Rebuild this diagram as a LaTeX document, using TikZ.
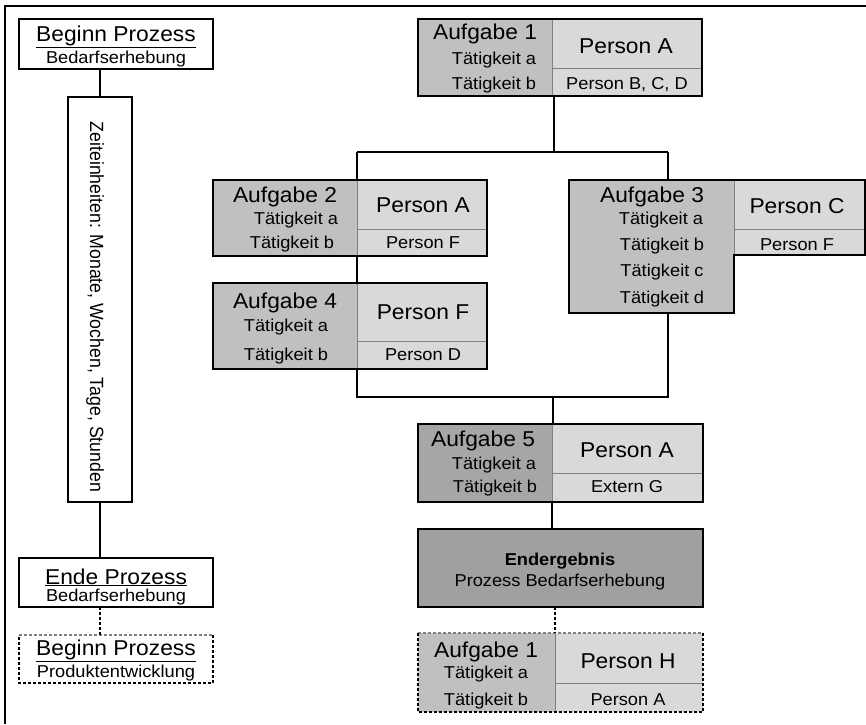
\documentclass[tikz,border=0pt]{standalone}
\usepackage{fontspec}
\setmainfont{Liberation Sans}
\usepackage{graphicx}
\definecolor{dk}{RGB}{192,192,192}
\definecolor{lt}{RGB}{217,217,217}
\definecolor{dkf}{RGB}{166,166,166}
\definecolor{endc}{RGB}{160,160,160}
\definecolor{sepc}{RGB}{128,128,128}
\newcommand\Tbig[1]{\scalebox{1.06}[1]{\fontsize{21.5pt}{21.5pt}\selectfont #1}}
\newcommand\Tmed[1]{\scalebox{1.06}[1]{\fontsize{17.2pt}{17.2pt}\selectfont #1}}
\newcommand\Trot[1]{\scalebox{1}[1.08]{\fontsize{17.7pt}{17.7pt}\selectfont #1}}
\begin{document}
\begin{tikzpicture}[x=1pt,y=-1pt,
  part/.style={inner sep=0pt, outer sep=0pt, anchor=north west},
  bord/.style={line width=1.8pt, black},
  dbord/.style={line width=1.6pt, black, dash pattern=on 3pt off 2pt},
  dbordg/.style={line width=1.2pt, sepc, dash pattern=on 3pt off 2pt},
  conn/.style={line width=1.8pt, black},
  dconn/.style={line width=1.5pt, black, dash pattern=on 3pt off 2pt},
  sepl/.style={line width=1pt, sepc},
  txt/.style={inner sep=0pt, anchor=base},
  lbox/.style={part, draw, line width=1.5pt, fill=white},
]
\useasboundingbox (0,0) rectangle (866,724);
% outer frame
\draw[line width=1.3pt] (866,6) -- (5,6) -- (5,724);

% ---------- left column ----------
\node[lbox, minimum width=194, minimum height=50] (b1) at (19,19) {};
\node[txt] (b1t) at (116,41) {\Tbig{\underline{Beginn Prozess}}};
\node[txt] (b1s) at (116,63) {\Tmed{Bedarfserhebung}};

\node[lbox, minimum width=64, minimum height=405] (tb) at (68,97) {};
\node[inner sep=0pt, rotate=-90] (tt) at (95,307) {\Trot{Zeiteinheiten: Monate, Wochen, Tage, Stunden}};

\node[lbox, minimum width=194, minimum height=49] (b2) at (19,558) {};
\node[txt] (b2t) at (116,584) {\Tbig{\underline{Ende Prozess}}};
\node[txt] (b2s) at (116,601) {\Tmed{Bedarfserhebung}};

\node[part, minimum width=194, minimum height=48] (b3) at (19,635) {};
\draw[dbordg] (b3.north west) -- (b3.north east);
\draw[dbord] (b3.north east) -- (b3.south east) -- (b3.south west) -- (b3.north west);
\node[txt] (b3t) at (116,655) {\Tbig{\underline{Beginn Prozess}}};
\node[txt] (b3s) at (116,677) {\Tmed{Produktentwicklung}};

\draw[conn] (tb.north |- b1.south) -- (tb.north);
\draw[conn] (tb.south) -- (tb.south |- b2.north);
\draw[dconn] (tb.south |- b2.south) -- (tb.south |- b3.north);

% ---------- Aufgabe 1 ----------
\node[part, fill=dk, minimum width=134, minimum height=77] (a1L) at (418,19) {};
\node[part, fill=lt, minimum width=150, minimum height=77] (a1R) at (552,19) {};
\draw[sepl] (a1R.west |- 0,68) -- (a1R.east |- 0,68);
\draw[sepl] (a1L.north east) -- (a1L.south east);
\draw[bord] (a1L.north west) rectangle (a1R.south east);
\node[txt] (a1t) at (485,39) {\Tbig{Aufgabe 1}};
\node[txt] (a1a) at (494,64) {\Tmed{Tätigkeit a}};
\node[txt] (a1b) at (494,89) {\Tmed{Tätigkeit b}};
\node[txt] (a1p) at (626,53) {\Tbig{Person A}};
\node[txt] (a1q) at (627,89) {\Tmed{Person B, C, D}};

% ---------- Aufgabe 2 ----------
\node[part, fill=dk, minimum width=144, minimum height=76] (a2L) at (213,180) {};
\node[part, fill=lt, minimum width=130, minimum height=76] (a2R) at (357,180) {};
\draw[sepl] (a2R.west |- 0,229) -- (a2R.east |- 0,229);
\draw[sepl] (a2L.north east) -- (a2L.south east);
\draw[bord] (a2L.north west) rectangle (a2R.south east);
\node[txt] (a2t) at (285,202) {\Tbig{Aufgabe 2}};
\node[txt] (a2a) at (296,224) {\Tmed{Tätigkeit a}};
\node[txt] (a2b) at (292,248) {\Tmed{Tätigkeit b}};
\node[txt] (a2p) at (423,212) {\Tbig{Person A}};
\node[txt] (a2q) at (423,248) {\Tmed{Person F}};

% ---------- Aufgabe 4 ----------
\node[part, fill=dk, minimum width=144, minimum height=86] (a4L) at (213,283) {};
\node[part, fill=lt, minimum width=130, minimum height=86] (a4R) at (357,283) {};
\draw[sepl] (a4R.west |- 0,341) -- (a4R.east |- 0,341);
\draw[sepl] (a4L.north east) -- (a4L.south east);
\draw[bord] (a4L.north west) rectangle (a4R.south east);
\node[txt] (a4t) at (285,308) {\Tbig{Aufgabe 4}};
\node[txt] (a4a) at (286,331) {\Tmed{Tätigkeit a}};
\node[txt] (a4b) at (286,360) {\Tmed{Tätigkeit b}};
\node[txt] (a4p) at (423,319) {\Tbig{Person F}};
\node[txt] (a4q) at (423,360) {\Tmed{Person D}};

% ---------- Aufgabe 3 ----------
\node[part, fill=dk, minimum width=165, minimum height=133] (a3L) at (569,180) {};
\node[part, fill=lt, minimum width=131, minimum height=75] (a3R) at (734,180) {};
\draw[sepl] (a3R.west |- 0,229) -- (a3R.east |- 0,229);
\draw[sepl] (a3R.north west) -- (a3R.south west);
\draw[bord] (a3L.north west) -- (a3R.north east) -- (a3R.south east) -- (a3R.south west)
  -- (a3L.south east) -- (a3L.south west) -- cycle;
\node[txt] (a3t) at (652,202) {\Tbig{Aufgabe 3}};
\node[txt] (a3a) at (661,224) {\Tmed{Tätigkeit a}};
\node[txt] (a3b) at (662,250) {\Tmed{Tätigkeit b}};
\node[txt] (a3c) at (662,276) {\Tmed{Tätigkeit c}};
\node[txt] (a3d) at (662,303) {\Tmed{Tätigkeit d}};
\node[txt] (a3p) at (797,213) {\Tbig{Person C}};
\node[txt] (a3q) at (797,250) {\Tmed{Person F}};

% ---------- Aufgabe 5 ----------
\node[part, fill=dkf, minimum width=134, minimum height=78] (a5L) at (418,424) {};
\node[part, fill=lt, minimum width=151, minimum height=78] (a5R) at (552,424) {};
\draw[sepl] (a5R.west |- 0,473) -- (a5R.east |- 0,473);
\draw[sepl] (a5L.north east) -- (a5L.south east);
\draw[bord] (a5L.north west) rectangle (a5R.south east);
\node[txt] (a5t) at (483,446) {\Tbig{Aufgabe 5}};
\node[txt] (a5a) at (494,469) {\Tmed{Tätigkeit a}};
\node[txt] (a5b) at (495,492) {\Tmed{Tätigkeit b}};
\node[txt] (a5p) at (627,457) {\Tbig{Person A}};
\node[txt] (a5q) at (627,492) {\Tmed{Extern G}};

% ---------- Endergebnis ----------
\node[part, fill=endc, draw, line width=1.8pt, minimum width=285, minimum height=78] (en) at (418,529) {};
\node[txt] (ent) at (560,565) {\Tmed{\bfseries Endergebnis}};
\node[txt] (ens) at (560,586) {\Tmed{Prozess Bedarfserhebung}};

% ---------- Aufgabe 1 (next process) ----------
\node[part, fill=dk, minimum width=137, minimum height=79] (b1L) at (418,633) {};
\node[part, fill=lt, minimum width=148, minimum height=79] (b1R) at (555,633) {};
\draw[sepl] (b1R.west |- 0,683) -- (b1R.east |- 0,683);
\draw[sepl] (b1L.north east) -- (b1L.south east);
\draw[dbordg] (b1L.north west) -- (b1R.north east);
\draw[dbord] (b1R.north east) -- (b1R.south east) -- (b1L.south west) -- (b1L.north west);
\node[txt] (b1at) at (486,657) {\Tbig{Aufgabe 1}};
\node[txt] (b1aa) at (486,678) {\Tmed{Tätigkeit a}};
\node[txt] (b1ab) at (486,705) {\Tmed{Tätigkeit b}};
\node[txt] (b1ap) at (628,668) {\Tbig{Person H}};
\node[txt] (b1aq) at (628,705) {\Tmed{Person A}};

% ---------- connectors ----------
\coordinate (j1) at (554,152);
\coordinate (jl) at (357,152);
\coordinate (jr) at (668,152);
\coordinate (k1) at (357,397);
\coordinate (k2) at (668,397);
\coordinate (k3) at (553,397);
\draw[conn] (a1L.south east -| j1) -- (j1);
\draw[conn] (jl) -- (jr);
\draw[conn] (jl) -- (a2L.north east);
\draw[conn] (jr) -- (jr |- a3L.north);
\draw[conn] (a2L.south east) -- (a4L.north east);
\draw[conn] (a4L.south east) -- (k1) -- (k2) -- (k2 |- a3L.south);
\draw[conn] (k3) -- (k3 |- a5L.north);
\draw[conn] (a5L.south east) -- (a5L.south east |- en.north);
\draw[dconn] (b1L.north east |- en.south) -- (b1L.north east);
\end{tikzpicture}
\end{document}
